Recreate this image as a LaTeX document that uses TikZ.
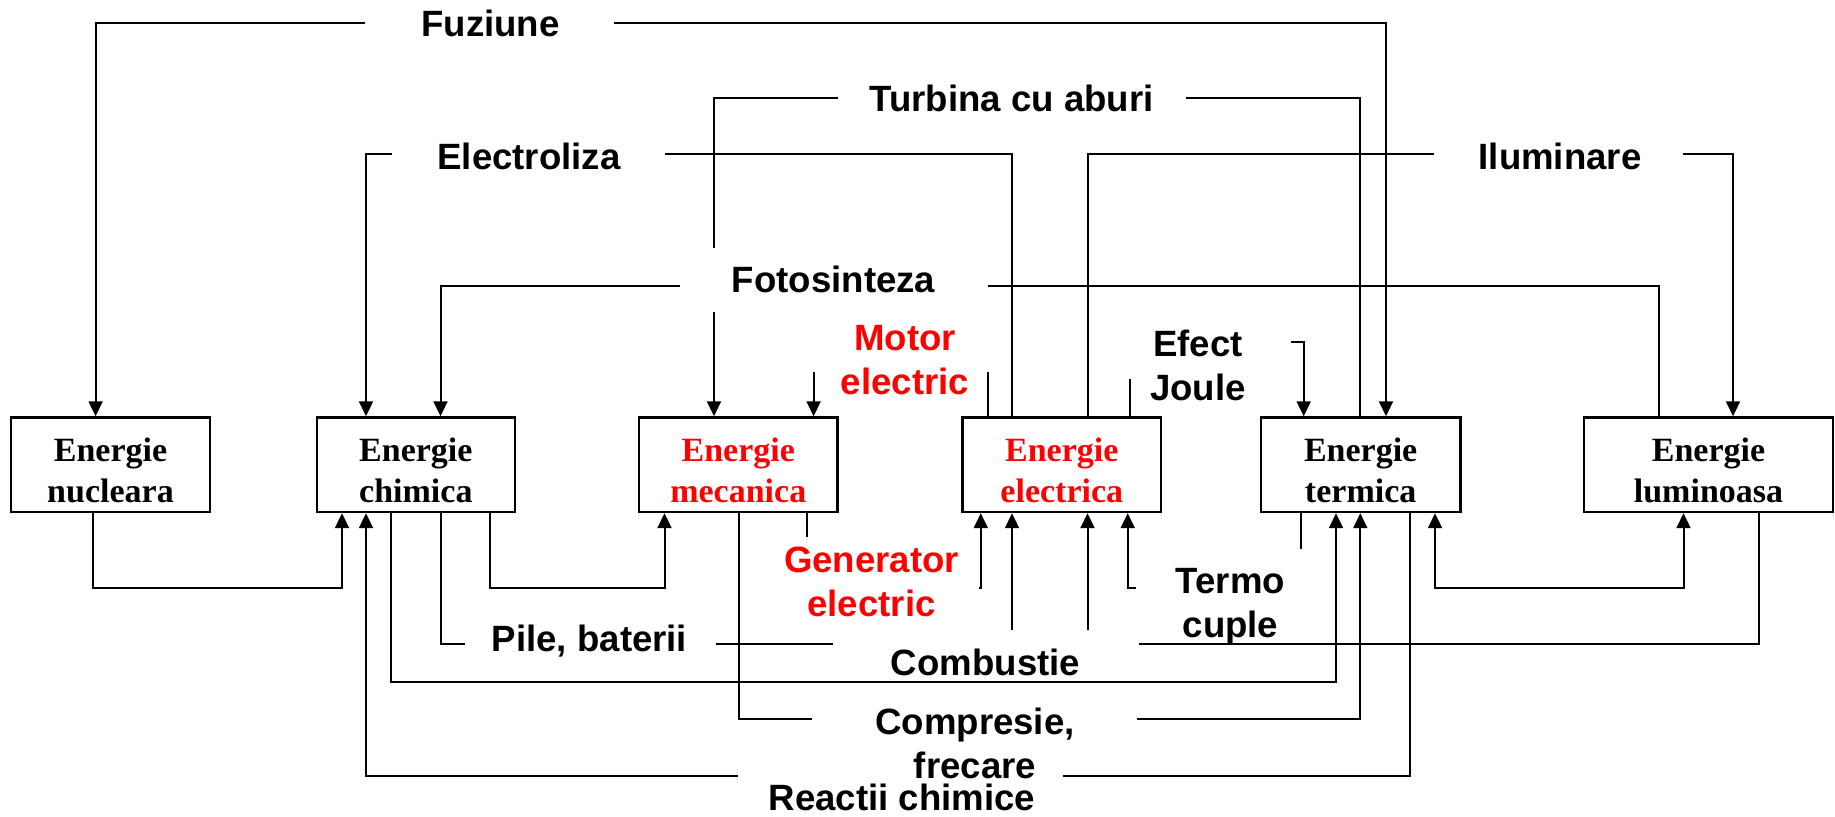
\documentclass[tikz,border=0pt]{standalone}
\usepackage{fontspec}
\setmainfont{Liberation Serif}
\setsansfont{Liberation Sans}
\usetikzlibrary{arrows.meta}
\begin{document}
\begin{tikzpicture}[x=0.5pt,y=-0.5pt,
  conn/.style={line width=1pt},
  arr/.style={conn,-{Triangle[length=7.5pt,width=7pt]}},
  both/.style={conn,{Triangle[length=7.5pt,width=7pt]}-{Triangle[length=7.5pt,width=7pt]}},
  box/.style={draw,line width=1.2pt,inner sep=0pt,minimum height=47.25pt},
  boxtxt/.style={font=\rmfamily\bfseries\fontsize{17pt}{20.5pt}\selectfont,inner sep=0pt,align=center},
  lbl/.style={font=\sffamily\bfseries\fontsize{18.3pt}{22pt}\selectfont,inner sep=0pt,align=center},
  hot/.style={text=red}]
\useasboundingbox (0,0) rectangle (1835,817);

% boxes
\node[box,minimum width=99.5pt]  (nuc)  at (110.5,464.75) {};
\node[box,minimum width=99.15pt] (chim) at (415.85,464.75) {};
\node[box,minimum width=99.25pt] (mec)  at (738.25,464.75) {};
\node[box,minimum width=99.2pt]  (elec) at (1061.8,464.75) {};
\node[box,minimum width=99.85pt] (term) at (1360.65,464.75) {};
\node[box,minimum width=124.5pt] (lum)  at (1708.5,464.75) {};

\node[boxtxt] (nucT)  at (110.5,470.5) {Energie\\nucleara};
\node[boxtxt] (chimT) at (415.85,470.5) {Energie\\chimica};
\node[boxtxt,hot] (mecT)  at (738.25,470.5) {Energie\\mecanica};
\node[boxtxt,hot] (elecT) at (1061.8,470.5) {Energie\\electrica};
\node[boxtxt] (termT) at (1360.65,470.5) {Energie\\termica};
\node[boxtxt] (lumT)  at (1708.5,470.5) {Energie\\luminoasa};

% labels
\node[lbl,anchor=base] (fuz)  at (490.5,37) {Fuziune};
\node[lbl,anchor=base] (turb) at (1011.7,112) {Turbina cu aburi};
\node[lbl,anchor=base] (elz)  at (529,170) {Electroliza};
\node[lbl,anchor=base] (ilu)  at (1560,170) {Iluminare};
\node[lbl,anchor=base] (foto) at (833.5,293) {Fotosinteza};
\node[lbl,hot] (mot) at (905,360) {Motor\\electric};
\node[lbl] (jou) at (1198,365.2) {Efect\\Joule};
\node[lbl,hot] (gen) at (871.5,582) {Generator\\electric};
\node[lbl] (ter) at (1230.5,607) {Termo\\cuple};
\node[lbl,anchor=base] (pil) at (589.5,651) {Pile, baterii};
\node[lbl,anchor=base] (com) at (985.5,675) {Combustie};
\node[lbl] (cmp) at (975,743.3) {Compresie,\\frecare};
\node[lbl,anchor=base] (rea) at (902,810) {Reactii chimice};

% top connectors
\draw[arr]  (365,23.3) -| (95.6,0 |- nuc.north);
\draw[arr]  (614,23.3) -| (1386,0 |- term.north);
\draw[conn] (838,98.3) -| (714,248.3);
\draw[arr]  (714,311.7) -- (714,0 |- mec.north);
\draw[conn] (1186,98.3) -| (1360,0 |- term.north);
\draw[arr]  (392,154.3) -| (366,0 |- chim.north);
\draw[conn] (664.5,154.3) -| (1012,0 |- elec.north);
\draw[conn] (1434,154.3) -| (1088,0 |- elec.north);
\draw[arr]  (1683,154.3) -| (1733,0 |- lum.north);
\draw[arr]  (680,286.5) -| (440.5,0 |- chim.north);
\draw[conn] (988,286.5) -| (1659,0 |- lum.north);
\draw[conn] (988,372) -- (988,0 |- elec.north);
\draw[arr]  (813.6,372) -- (813.6,0 |- mec.north);
\draw[conn] (1129.6,379) -- (1129.6,0 |- elec.north);
\draw[arr]  (1290.6,342.3) -| (1303.7,0 |- term.north);

% bottom connectors
\draw[arr]  (92.7,0 |- nuc.south) |- (342,587.7) -- (342,0 |- chim.south);
\draw[arr]  (490,0 |- chim.south) |- (664.5,587.7) -- (664.5,0 |- mec.south);
\draw[conn] (440.5,0 |- chim.south) |- (465,643.7);
\draw[conn] (715.5,643.7) -- (833,643.7);
\draw[arr]  (391,0 |- chim.south) |- (1336,681.7) -- (1336,0 |- term.south);
\draw[arr]  (737.8,775.7) -| (366,0 |- chim.south);
\draw[conn] (1062.8,775.7) -| (1410.4,0 |- term.south);
\draw[conn] (812,719) -| (739,0 |- mec.south);
\draw[arr]  (1136.7,719.3) -| (1360.3,0 |- term.south);
\draw[conn] (806.7,0 |- mec.south) -- (806.7,537.3);
\draw[arr]  (978.5,588.3) -| (980.8,0 |- elec.south);
\draw[arr]  (1012,630) -- (1012,0 |- elec.south);
\draw[arr]  (1087.5,630) -- (1087.5,0 |- elec.south);
\draw[arr]  (1135.7,588.3) -| (1127.7,0 |- elec.south);
\draw[conn] (1301,0 |- term.south) -- (1301,549);
\draw[both] (1435,0 |- term.south) |- (1683.5,587.7) -- (1683.5,0 |- lum.south);
\draw[conn] (1139,643.7) -| (1758.7,0 |- lum.south);
\end{tikzpicture}
\end{document}
